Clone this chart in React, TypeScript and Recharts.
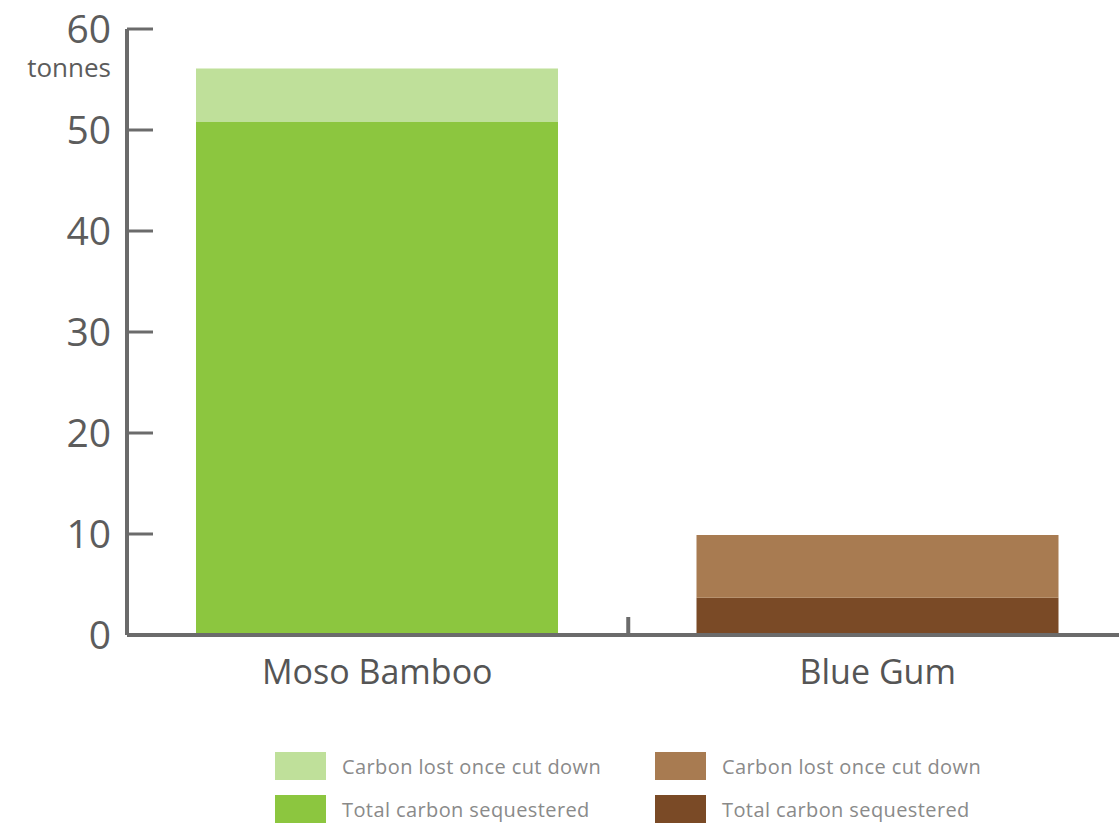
import { BarChart, Bar, XAxis, YAxis, Cell } from "recharts";

const categories = ["Moso Bamboo", "Blue Gum"];
const sequestered = [50.8, 3.7];
const lostOnCut = [5.3, 6.2];
const yTicks = [0, 10, 20, 30, 40, 50, 60];

const darkColors = ["#8cc63f", "#7a4a26"];
const lightColors = ["#bfe09a", "#a87b51"];

const legendLabels = ["Carbon lost once cut down", "Total carbon sequestered"];

const data = categories.map((name, i) => ({
  name,
  sequestered: sequestered[i],
  lost: lostOnCut[i],
}));

const AXIS = "#6b6b6b";
const FONT = "'Open Sans', sans-serif";

const YTick = (props: any) => {
  const { x, y, payload } = props;
  return (
    <g>
      <line x1={x} x2={x + 26} y1={y} y2={y} stroke={AXIS} strokeWidth={3} />
      <text
        x={x - 16}
        y={y}
        dy="0.36em"
        textAnchor="end"
        fontSize={39}
        fill="#5c5c5c"
        fontFamily={FONT}
      >
        {payload.value}
      </text>
      {payload.value === 60 && (
        <text x={x - 16} y={y + 48} textAnchor="end" fontSize={26} fill="#5c5c5c" fontFamily={FONT}>
          tonnes
        </text>
      )}
    </g>
  );
};

const XTick = (props: any) => {
  const { x, y, payload, index } = props;
  return (
    <g>
      {index === 0 && (
        <line x1={x + 251} x2={x + 251} y1={y - 18} y2={y} stroke={AXIS} strokeWidth={4} />
      )}
      <text x={x} y={y + 49} textAnchor="middle" fontSize={34} fill="#555" fontFamily={FONT}>
        {payload.value}
      </text>
    </g>
  );
};

const LegendBlock = ({ left, idx }: { left: number; idx: number }) => (
  <div style={{ position: "absolute", left, top: 752, fontFamily: FONT }}>
    {[lightColors[idx], darkColors[idx]].map((c, r) => (
      <div key={r} style={{ display: "flex", alignItems: "center", height: 28, marginBottom: 15 }}>
        <div style={{ width: 51, height: 28, background: c }} />
        <span
          style={{
            marginLeft: 16,
            fontSize: 20,
            letterSpacing: 0.4,
            color: "#8a8a8a",
            whiteSpace: "nowrap",
          }}
        >
          {legendLabels[r]}
        </span>
      </div>
    ))}
  </div>
);

export default function App() {
  return (
    <div
      style={{
        position: "fixed",
        left: 0,
        top: 0,
        width: 1119,
        height: 823,
        overflow: "hidden",
        background: "#fff",
      }}
    >
      <BarChart
        width={1128}
        height={823}
        data={data}
        margin={{ top: 29, right: 0, left: 0, bottom: 128 }}
      >
        <XAxis
          dataKey="name"
          height={60}
          axisLine={{ stroke: AXIS, strokeWidth: 4 }}
          tickLine={false}
          tickSize={0}
          tickMargin={0}
          tick={<XTick />}
          interval={0}
        />
        <YAxis
          width={127}
          domain={[0, 60]}
          ticks={yTicks}
          axisLine={{ stroke: AXIS, strokeWidth: 4 }}
          tickLine={false}
          tickSize={0}
          tickMargin={0}
          tick={<YTick />}
          interval={0}
        />
        <Bar dataKey="sequestered" stackId="a" barSize={362} isAnimationActive={false}>
          {data.map((_, i) => (
            <Cell key={`d-${i}`} fill={darkColors[i]} />
          ))}
        </Bar>
        <Bar dataKey="lost" stackId="a" barSize={362} isAnimationActive={false}>
          {data.map((_, i) => (
            <Cell key={`l-${i}`} fill={lightColors[i]} />
          ))}
        </Bar>
      </BarChart>
      <LegendBlock left={275} idx={0} />
      <LegendBlock left={655} idx={1} />
    </div>
  );
}
